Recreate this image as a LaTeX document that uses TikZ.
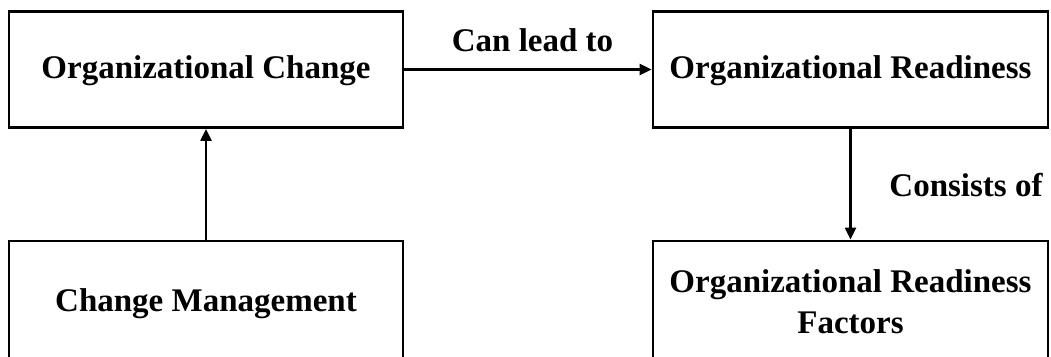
\documentclass[tikz,border=0pt]{standalone}
\usepackage{fontspec}
\setmainfont{Liberation Serif}
\usetikzlibrary{arrows.meta}
\begin{document}
\begin{tikzpicture}[x=1pt,y=-1pt,
  box/.style={draw=black,line width=2.8pt,fill=none,inner sep=0pt},
  txt/.style={font=\fontsize{33}{41}\selectfont\bfseries,align=center,inner sep=0pt},
  conn/.style={line width=2.2pt,-{Triangle[length=12pt,width=11pt]}}]
\useasboundingbox (0,0) rectangle (1051,356);
\clip (0,0) rectangle (1051,356);
\node[box,minimum width=394pt,minimum height=116pt] (oc) at (206,69.5) {};
\node[box,minimum width=395pt,minimum height=116pt] (or) at (850.5,69.5) {};
\node[box,minimum width=394pt,minimum height=130pt] (cm) at (206,306) {};
\node[box,minimum width=395pt,minimum height=130pt] (orf) at (850.5,306) {};
\node[txt] (toc) at (206,71) {Organizational Change};
\node[txt] (tor) at (850.5,71) {Organizational Readiness};
\node[txt] (tcm) at (206,304) {Change Management};
\node[txt] (torf) at (850.5,301.5) {Organizational Readiness\\Factors};
\draw[conn] (oc.east) -- (or.west);
\node[txt] (l1) at (532.5,40) {Can lead to};
\draw[conn] (cm.north) -- (oc.south);
\draw[conn] (or.south) -- (orf.north);
\node[txt] (l2) at (966,185) {Consists of};
\end{tikzpicture}
\end{document}
